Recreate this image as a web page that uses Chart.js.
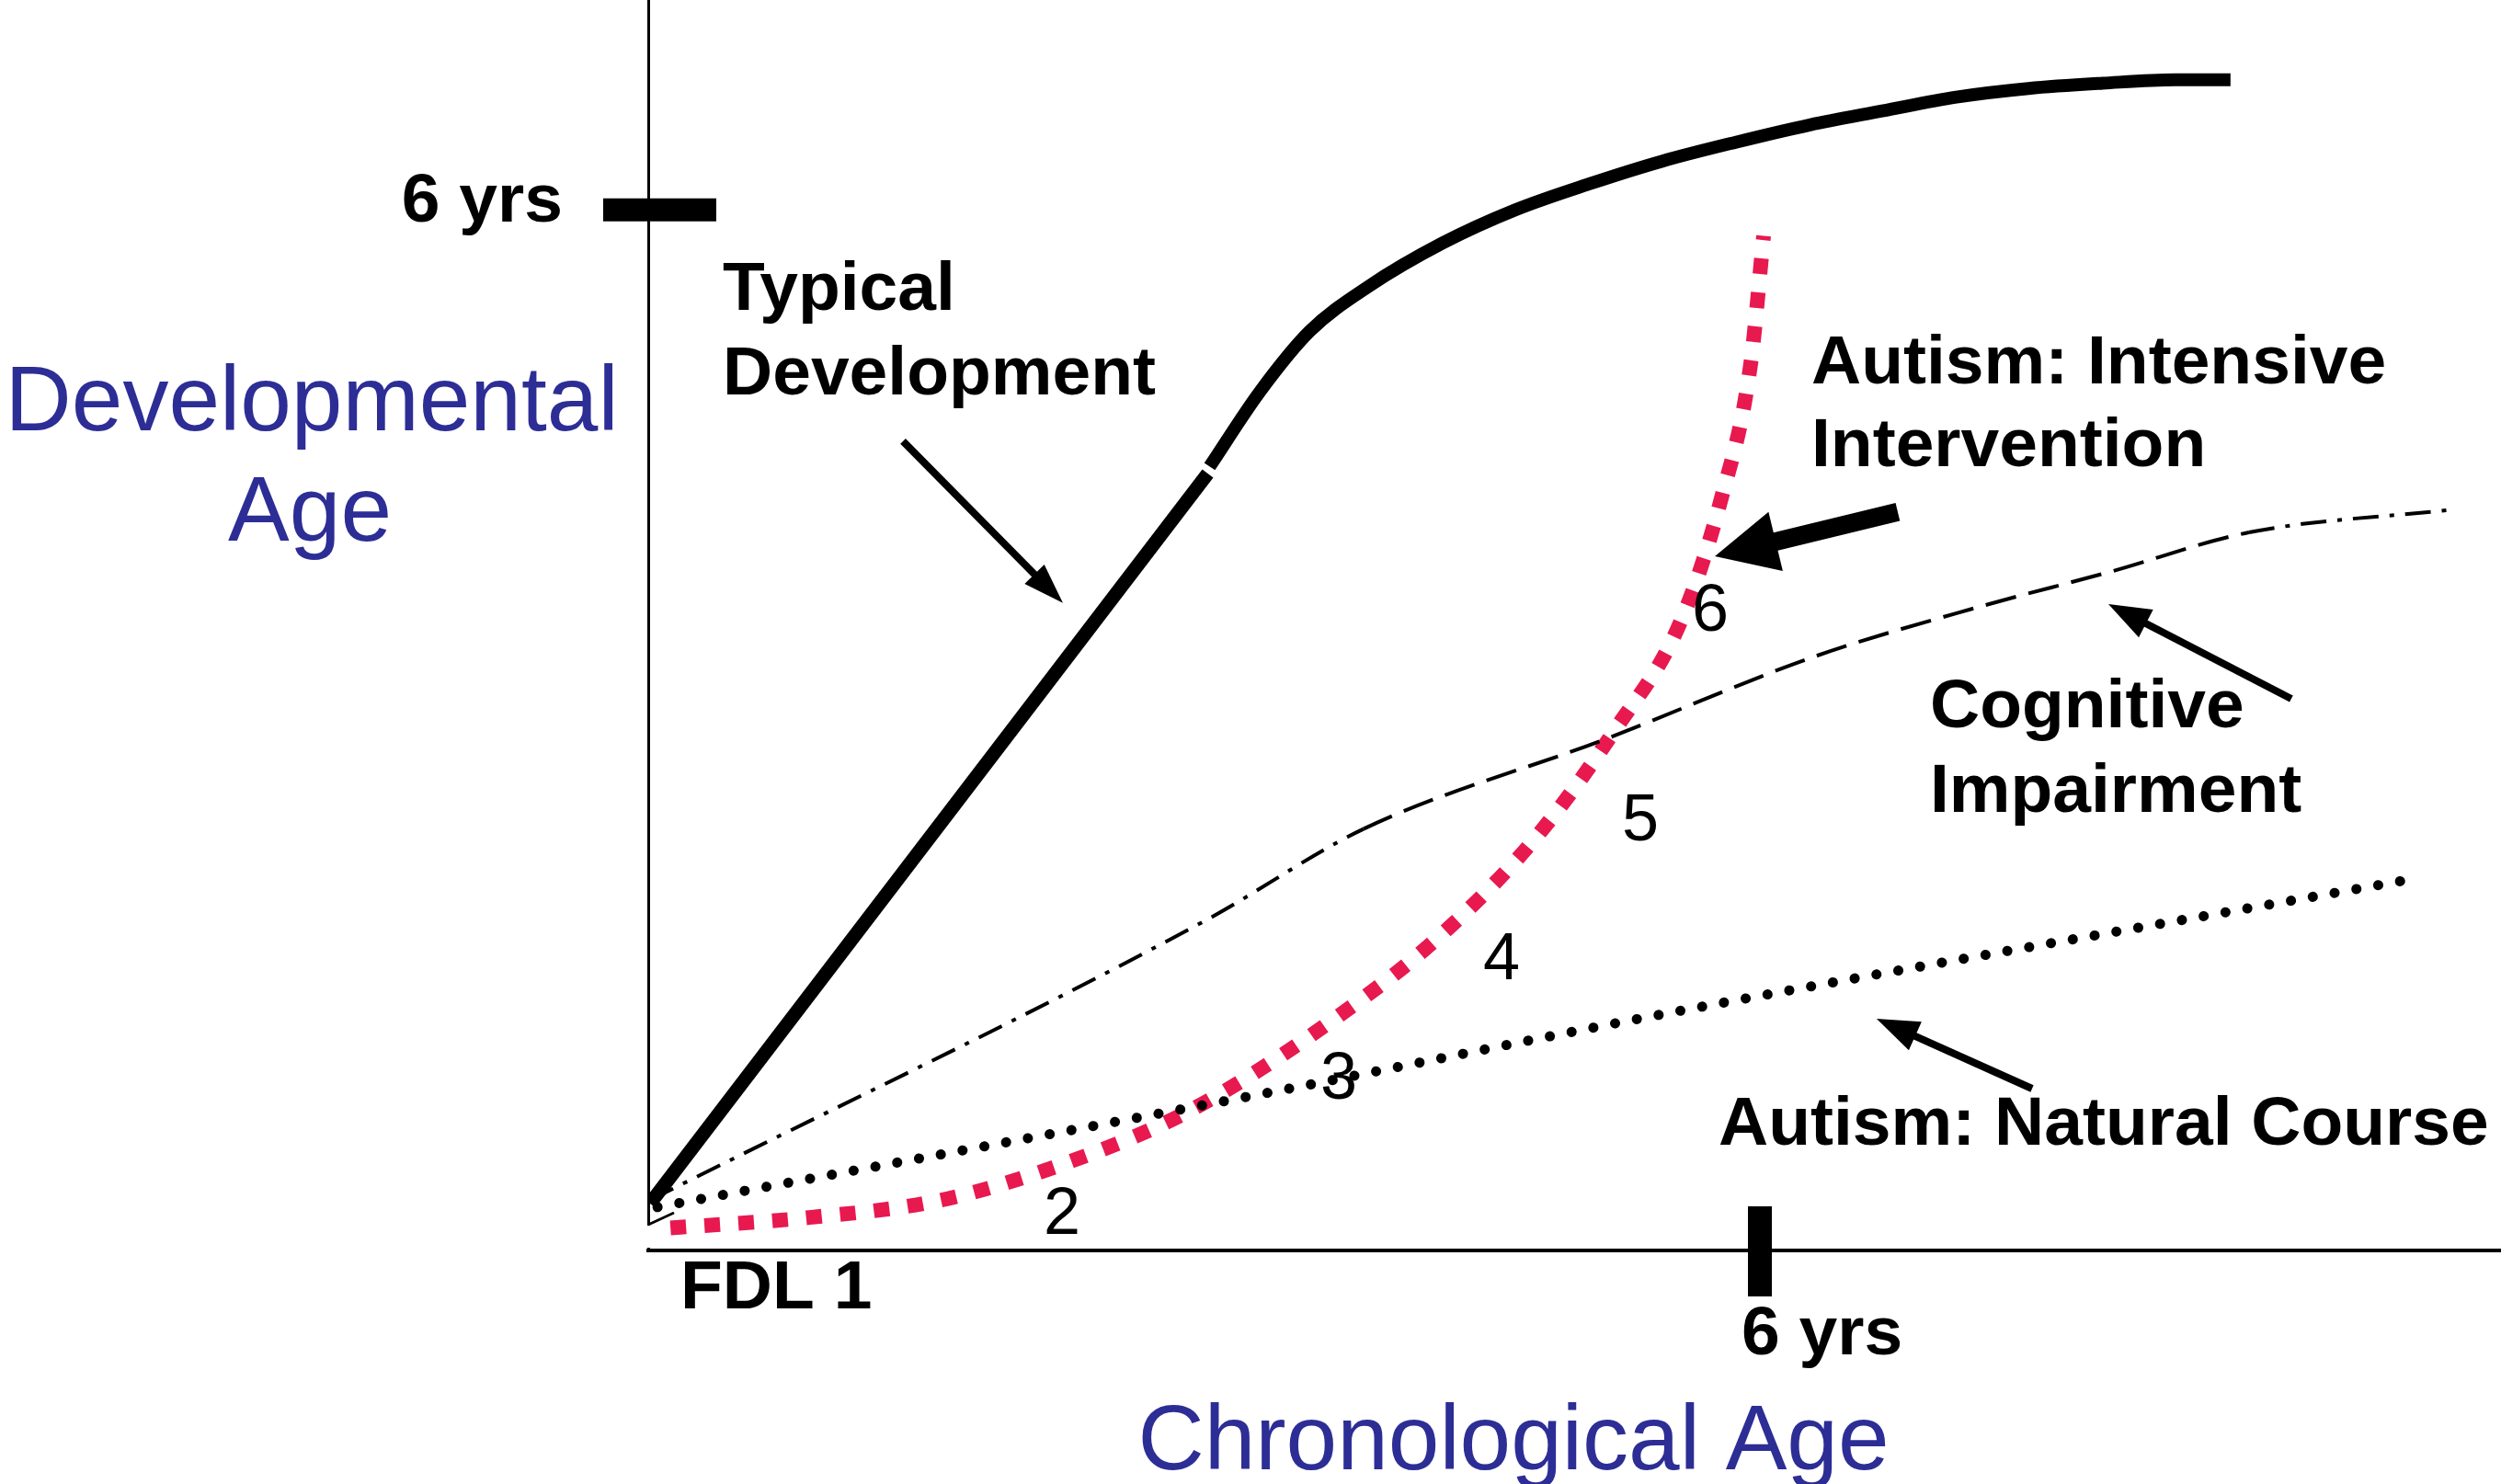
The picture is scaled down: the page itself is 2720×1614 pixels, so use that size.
<!DOCTYPE html>
<html>
<head>
<meta charset="utf-8">
<script src="https://cdn.jsdelivr.net/npm/chart.js@4.4.1/dist/chart.umd.min.js"></script>
<style>
  html, body { margin: 0; padding: 0; background: #ffffff; }
  #chart { display: block; }
</style>
</head>
<body>
<canvas id="chart" width="2720" height="1614"></canvas>
<script>
// Series (x = chronological age, y = developmental age, in years)
// Typical development: straight rise, then a bending curve after the small kink
const typicalLineX = [0.01, 3.02];
const typicalLineY = [0.27, 4.48];
const typicalCurveX = [3.03, 3.30, 3.57, 3.89, 4.29, 4.68, 5.08, 5.47, 5.87, 6.27, 6.66, 7.06, 7.45, 7.85, 8.24, 8.54];
const typicalCurveY = [4.52, 4.95, 5.30, 5.56, 5.81, 6.00, 6.15, 6.28, 6.39, 6.49, 6.57, 6.65, 6.70, 6.73, 6.75, 6.75];

const intensiveX = [0.12, 0.87, 1.58, 2.27, 2.93, 3.71, 4.28, 4.79, 5.21, 5.57, 5.79, 5.95, 6.02];
const intensiveY = [0.13, 0.19, 0.29, 0.51, 0.81, 1.34, 1.82, 2.38, 2.99, 3.62, 4.33, 5.11, 5.85];

const cognitiveX = [0.01, 3.02, 3.86, 5.17, 6.31, 7.18, 7.88, 8.64, 9.72];
const cognitiveY = [0.29, 1.91, 2.43, 2.95, 3.43, 3.71, 3.91, 4.14, 4.27];

const naturalX = [0.05, 3.30, 5.61, 9.46];
const naturalY = [0.25, 0.90, 1.39, 2.13];

// Axis ticks
const tickValue = 6;
const tickLabel = "6 yrs";
const originLabel = "FDL 1";

// Numbered stages along the intervention curve
const stageLabels = ["2", "3", "4", "5", "6"];

const toPoints = (xs, ys) => xs.map((v, i) => ({ x: v, y: ys[i] }));

const BOLD = "bold 75px 'Liberation Sans', Arial, sans-serif";
const PLAIN = "72px 'Liberation Sans', Arial, sans-serif";
const TITLE = "100px 'Liberation Sans', Arial, sans-serif";
const BLUE = "#2d2d96";

// Texts, tick bars and arrows drawn on top of the chart
const annotations = {
  id: "annotations",
  afterDraw(chart) {
    const { ctx, scales: { x, y } } = chart;
    const px = (v) => x.getPixelForValue(v);
    const py = (v) => y.getPixelForValue(v);

    const text = (str, xv, yv, font, color, align, base) => {
      ctx.font = font;
      ctx.fillStyle = color;
      ctx.textAlign = align;
      ctx.textBaseline = base || "alphabetic";
      ctx.fillText(str, px(xv), py(yv));
    };

    const arrow = (x1v, y1v, x2v, y2v, w, len, half) => {
      const x1 = px(x1v), y1 = py(y1v), x2 = px(x2v), y2 = py(y2v);
      const a = Math.atan2(y2 - y1, x2 - x1);
      const bx = x2 - len * Math.cos(a);
      const by = y2 - len * Math.sin(a);
      ctx.strokeStyle = "#000";
      ctx.fillStyle = "#000";
      ctx.lineWidth = w;
      ctx.lineCap = "butt";
      ctx.setLineDash([]);
      ctx.beginPath();
      ctx.moveTo(x1, y1);
      ctx.lineTo(bx + Math.cos(a) * 2, by + Math.sin(a) * 2);
      ctx.stroke();
      ctx.beginPath();
      ctx.moveTo(x2, y2);
      ctx.lineTo(bx + half * Math.sin(a), by - half * Math.cos(a));
      ctx.lineTo(bx - half * Math.sin(a), by + half * Math.cos(a));
      ctx.closePath();
      ctx.fill();
    };

    ctx.save();

    // the vertical axis stops just short of the horizontal one, with a small corner mark
    const ax = px(0), ay = py(0);
    ctx.fillStyle = "#ffffff";
    ctx.fillRect(ax - 3, ay - 27, 6, 24);
    ctx.strokeStyle = "#000";
    ctx.lineWidth = 3;
    ctx.beginPath();
    ctx.moveTo(ax, ay - 28);
    ctx.lineTo(ax + 28, ay - 41);
    ctx.stroke();

    // thick tick bars crossing the axes
    ctx.fillStyle = "#000";
    ctx.fillRect(ax - 49, py(tickValue) - 12.5, 123, 25);
    ctx.fillRect(px(tickValue) - 13, ay - 48, 26, 98);

    // tick labels
    text(tickLabel, -0.462, 5.933, BOLD, "#000", "right");
    text(tickLabel, 5.901, -0.599, BOLD, "#000", "left");
    text(originLabel, 0.174, -0.334, BOLD, "#000", "left");

    // axis titles
    text("Developmental", -1.816, 4.730, TITLE, BLUE, "center");
    text("Age", -1.826, 4.093, TITLE, BLUE, "center");
    text("Chronological Age", 4.670, -1.262, TITLE, BLUE, "center");

    // series labels
    text("Typical", 0.402, 5.424, BOLD, "#000", "left");
    text("Development", 0.402, 4.936, BOLD, "#000", "left");
    text("Autism: Intensive", 6.278, 5.000, BOLD, "#000", "left");
    text("Intervention", 6.278, 4.523, BOLD, "#000", "left");
    text("Cognitive", 6.918, 3.017, BOLD, "#000", "left");
    text("Impairment", 6.918, 2.529, BOLD, "#000", "left");
    text("Autism: Natural Course", 5.777, 0.610, BOLD, "#000", "left");

    // stage numbers
    const stagePos = [[2.233, 0.201], [3.727, 0.981], [4.605, 1.670], [5.355, 2.471], [5.732, 3.680]];
    stageLabels.forEach((s, i) => text(s, stagePos[i][0], stagePos[i][1], PLAIN, "#000", "center", "middle"));

    // arrows
    arrow(1.375, 4.666, 2.238, 3.733, 8, 44, 15);
    arrow(6.744, 4.258, 5.757, 4.003, 20, 68, 33);
    arrow(8.868, 3.181, 7.881, 3.727, 8, 46, 17);
    arrow(7.469, 0.933, 6.630, 1.336, 8, 46, 17);

    ctx.restore();
  },
};

// Dash-dot at both ends of the cognitive line, dashed in the middle
const DASH_DOT = [28, 12, 5, 12];
const DASHED = [34, 14];

new Chart(document.getElementById("chart"), {
  type: "scatter",
  plugins: [annotations],
  data: {
    datasets: [
      {
        label: "Typical Development",
        data: toPoints(typicalLineX, typicalLineY),
        showLine: true,
        borderColor: "#000000",
        borderWidth: 15,
        borderCapStyle: "butt",
        tension: 0,
        pointRadius: 0,
      },
      {
        label: "Typical Development",
        data: toPoints(typicalCurveX, typicalCurveY),
        showLine: true,
        borderColor: "#000000",
        borderWidth: 14,
        borderCapStyle: "butt",
        cubicInterpolationMode: "monotone",
        pointRadius: 0,
      },
      {
        label: "Cognitive Impairment",
        data: toPoints(cognitiveX, cognitiveY),
        showLine: true,
        borderColor: "#000000",
        borderWidth: 4,
        cubicInterpolationMode: "monotone",
        pointRadius: 0,
        segment: {
          borderDash: (c) => (c.p0DataIndex >= 2 && c.p0DataIndex <= 6 ? DASHED : DASH_DOT),
        },
      },
      {
        label: "Autism: Natural Course",
        data: toPoints(naturalX, naturalY),
        showLine: true,
        borderColor: "#000000",
        borderWidth: 11,
        borderCapStyle: "round",
        borderDash: [0.1, 24],
        cubicInterpolationMode: "monotone",
        pointRadius: 0,
      },
      {
        label: "Autism: Intensive Intervention",
        data: toPoints(intensiveX, intensiveY),
        showLine: true,
        borderColor: "#e8194f",
        borderWidth: 16,
        borderCapStyle: "butt",
        borderDash: [17, 20],
        cubicInterpolationMode: "monotone",
        pointRadius: 0,
      },
    ],
  },
  options: {
    responsive: false,
    animation: false,
    events: [],
    layout: { padding: { left: 705, right: 0, top: 0, bottom: 254 } },
    plugins: {
      legend: { display: false },
      tooltip: { enabled: false },
    },
    scales: {
      x: {
        type: "linear",
        min: 0,
        max: 10,
        ticks: { display: false },
        grid: { display: false, drawTicks: false, tickLength: 0 },
        border: { display: true, color: "#000000", width: 4 },
      },
      y: {
        type: "linear",
        min: 0,
        max: 7.21,
        ticks: { display: false },
        grid: { display: false, drawTicks: false, tickLength: 0 },
        border: { display: true, color: "#000000", width: 3 },
      },
    },
  },
});
</script>
</body>
</html>
